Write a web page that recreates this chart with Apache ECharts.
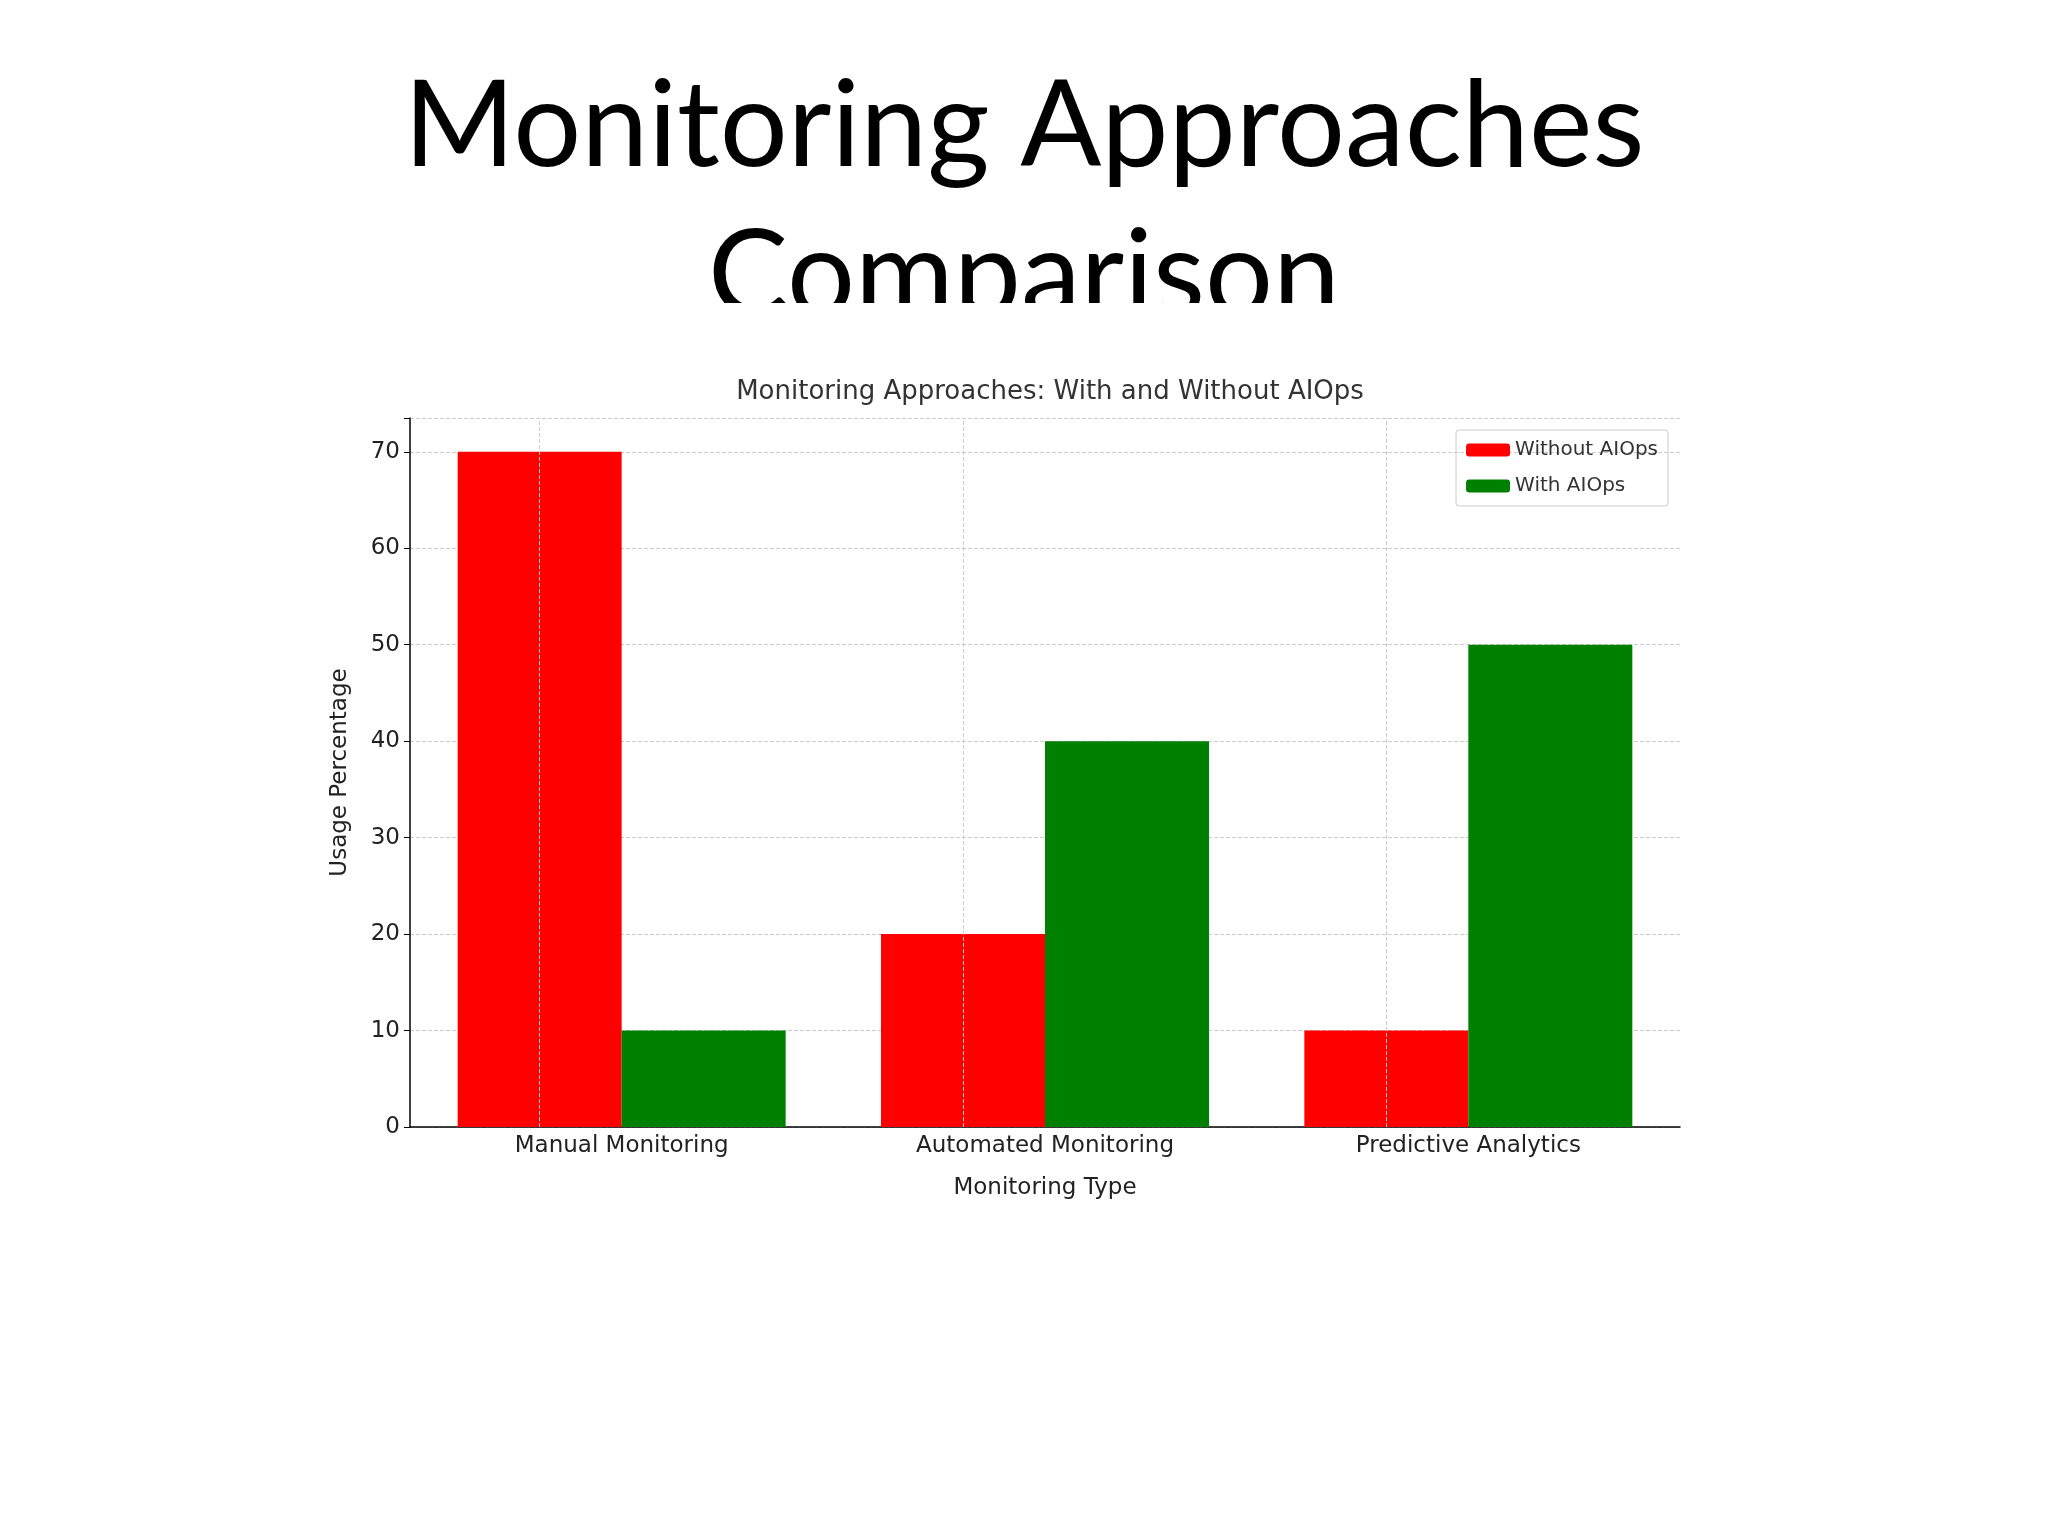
<!DOCTYPE html>
<html>
<head>
<meta charset="utf-8" />
<title>Monitoring Approaches Comparison</title>
<script src="https://cdn.jsdelivr.net/npm/echarts@6/dist/echarts.min.js"></script>
<style>
body, html { margin: 0; padding: 0; background: #fff; }
#chart { width: 2048px; height: 1536px; }
</style>
</head>
<body>
<div id="chart"></div>
<script>
// data
let categories = ['Manual Monitoring', 'Automated Monitoring', 'Predictive Analytics'];
let withoutAIOps = [70, 20, 10];
let withAIOps = [10, 40, 50];
let yTicks = [0, 10, 20, 30, 40, 50, 60, 70];

let chart = echarts.init(document.getElementById('chart'));
let txt = '#222';
chart.setOption({
	animation: false,
	backgroundColor: '#fff',
	title: [{
		text: 'Monitoring Approaches\nComparison',
		left: 'center',
		top: 48,
		textStyle: { fontFamily: 'Lato', fontWeight: 'normal', fontSize: 120, lineHeight: 149, color: '#000' }
	}, {
		text: 'Monitoring Approaches: With and Without AIOps',
		left: 1045,
		textAlign: 'center',
		top: 374,
		textStyle: { fontFamily: 'DejaVu Sans', fontWeight: 'normal', fontSize: 26, color: '#333' }
	}],
	// covers the clipped lower part of the big title
	graphic: [{
		type: 'rect', z: 100,
		shape: { x: 0, y: 303, width: 2048, height: 60 },
		style: { fill: '#fff' }
	}],
	legend: {
		right: 2048 - 1668,
		top: 430,
		orient: 'vertical',
		itemWidth: 44,
		itemHeight: 13,
		itemGap: 16,
		padding: [10, 10, 10, 10],
		borderColor: '#ccc',
		borderWidth: 1,
		borderRadius: 3,
		data: ['Without AIOps', 'With AIOps'],
		textStyle: { fontFamily: 'DejaVu Sans', fontSize: 20, color: '#333' }
	},
	grid: { left: 410, right: 2048 - 1680, top: 418, bottom: 1536 - 1127 },
	xAxis: {
		type: 'category',
		data: categories,
		name: 'Monitoring Type',
		nameLocation: 'middle',
		nameGap: 50,
		nameTextStyle: { fontFamily: 'DejaVu Sans', fontSize: 23, color: txt },
		axisLine: { lineStyle: { color: '#000', width: 1.5 } },
		axisTick: { show: false },
		axisLabel: { fontFamily: 'DejaVu Sans', fontSize: 23, color: txt, margin: 8 },
		splitLine: { show: false }
	},
	yAxis: {
		type: 'value',
		min: 0,
		max: 73.5,
		interval: 10,
		name: 'Usage Percentage',
		nameLocation: 'middle',
		nameGap: 58,
		nameTextStyle: { fontFamily: 'DejaVu Sans', fontSize: 23, color: txt },
		axisLine: { show: true, lineStyle: { color: '#000', width: 1.5 } },
		axisTick: { show: true, length: 6, lineStyle: { color: '#000' } },
		axisLabel: {
			fontFamily: 'DejaVu Sans', fontSize: 23, color: txt, margin: 10,
			formatter: function (v) { return yTicks.indexOf(v) >= 0 ? String(v) : ''; }
		},
		splitLine: { show: true, lineStyle: { color: '#ccc', type: 'dashed', width: 1 } }
	},
	series: [{
		name: 'Without AIOps',
		type: 'bar',
		data: withoutAIOps,
		barWidth: 164,
		barGap: '0%',
		itemStyle: { color: '#ff0000' },
		markLine: {
			silent: true, symbol: 'none', label: { show: false },
			lineStyle: { color: '#ccc', type: 'dashed', width: 1 },
			data: categories.map(function (c) { return { xAxis: c }; })
		}
	}, {
		name: 'With AIOps',
		type: 'bar',
		data: withAIOps,
		barWidth: 164,
		itemStyle: { color: '#008000' }
	}]
});
</script>
</body>
</html>
